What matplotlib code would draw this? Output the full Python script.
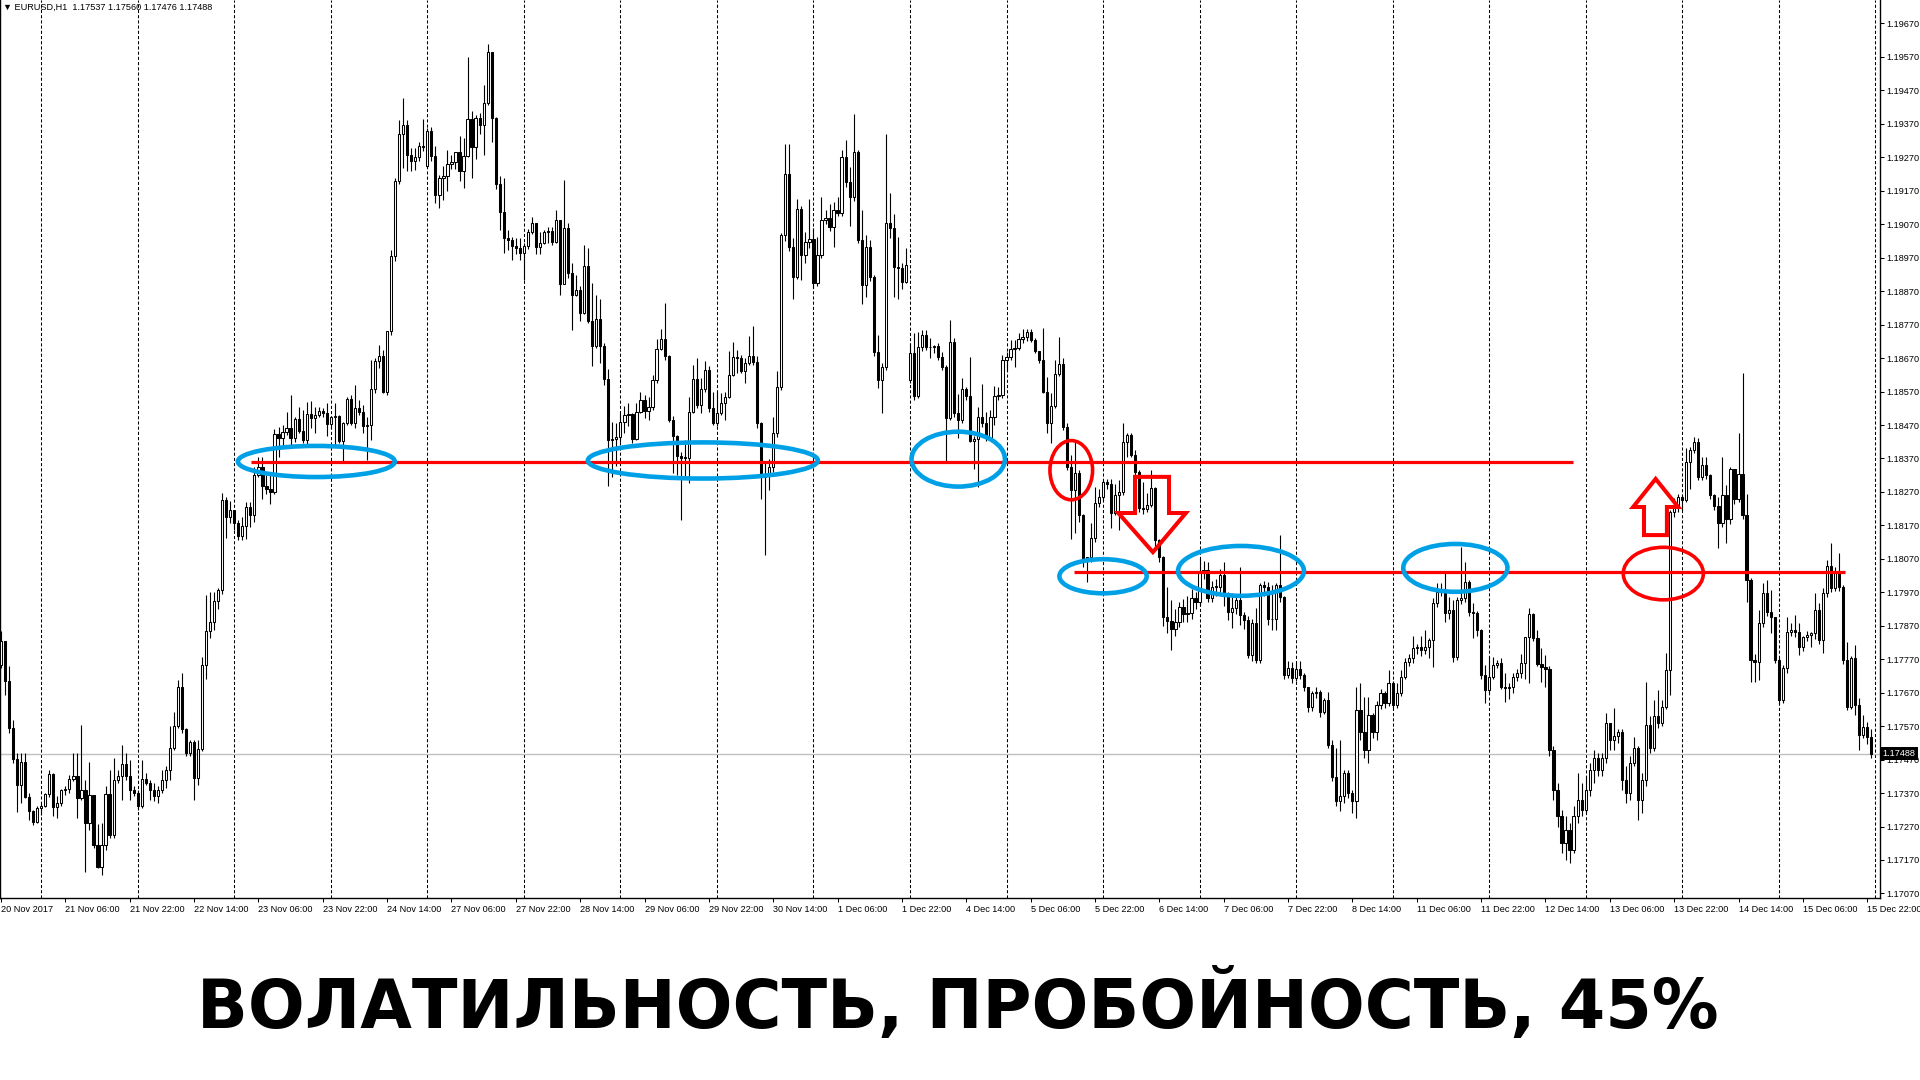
import numpy as np
import matplotlib
matplotlib.use('Agg')
import matplotlib.pyplot as plt
import matplotlib.transforms as mtransforms
from matplotlib.patches import Ellipse, Polygon
from matplotlib.ticker import FormatStrFormatter

# EURUSD H1, prices in pips above 1.17000, bar 0 = 20 Nov 2017 14:00
close_pips = [
    82.3, 70.4, 56.4, 47.1, 39.5, 46.4, 35.8, 31.5, 28.5, 32.5,
    33.2, 36.8, 42.8, 32.8, 34, 37.8, 38.2, 41.3, 42, 35.5,
    38, 28, 36.5, 21.5, 15, 21.5, 36.8, 24.5, 40.8, 42.2,
    45.7, 42, 38, 37, 33, 41.2, 40, 38, 36, 38,
    41, 43.8, 50.4, 57.1, 68.7, 56.1, 49.1, 52.4, 41.5, 50.1,
    75.3, 85.3, 88, 94.5, 97.7, 124.6, 119.6, 121.6, 117.6, 113.9,
    116.8, 122.6, 120.1, 132, 134.5, 128.8, 127.8, 127, 144.3, 143,
    145, 146, 143, 148.7, 145.3, 142.5, 150.3, 149, 150, 151.2,
    150.5, 147.3, 149.5, 149.7, 142.3, 147.7, 154.9, 147.7, 152, 151,
    146.7, 147, 157.9, 166, 167.5, 157, 175, 197.4, 219.8, 234,
    236.7, 227.7, 225.8, 227, 230.4, 230, 235, 227.5, 215.8, 220.8,
    221.3, 225, 225.5, 228.5, 222.8, 227.5, 238.4, 230.2, 238.7, 236.7,
    243.2, 258.6, 238.7, 219.1, 210.8, 202.8, 202.2, 200.4, 200, 198.5,
    200.4, 204.8, 207.3, 200.2, 201.5, 204.8, 205, 201.8, 208.3, 189.2,
    205.8, 192.4, 186, 187.2, 180.6, 194.6, 178, 170.7, 178.6, 170.7,
    160.7, 142.6, 142.8, 143.3, 147.8, 150.1, 150.4, 142.8, 151, 154.5,
    151.3, 152.5, 160.5, 169.7, 172.7, 167.5, 148.4, 143.8, 137.6, 137.2,
    137.1, 150.8, 160.7, 153, 157.7, 163.5, 152, 147.6, 150.5, 153.6,
    155.5, 162, 167.3, 167, 163, 165.5, 167.7, 165.7, 147.6, 131.6,
    132, 134.5, 144.5, 158.5, 203.8, 222, 200.1, 191.3, 211.7, 197.8,
    201.8, 202.5, 189.3, 197.8, 208.2, 209, 206.3, 211.2, 210.4, 227,
    219.7, 215.2, 228.7, 202.3, 188.8, 200.3, 191.3, 168.9, 160.4, 164.4,
    207.3, 205.8, 194.3, 193.8, 189.8, 194.8, 168.4, 155.6, 170.4, 174,
    170.4, 170.2, 170.6, 167.2, 164.4, 149, 171.9, 150.5, 148.5, 157.9,
    155.7, 142.3, 142.8, 149.3, 147.5, 143, 149.3, 155.6, 155.9, 166.4,
    167.4, 169.6, 169.9, 172.6, 173.2, 174.9, 172.4, 169.2, 166.5, 157,
    147.7, 152.7, 162.2, 165.2, 146.5, 134.5, 127.6, 132.6, 120.1, 106.7,
    107.5, 113.1, 123.6, 125.6, 130.1, 129.5, 120.6, 126.1, 127, 142,
    144, 138, 133, 122.1, 121.8, 123, 128.1, 112.6, 107.7, 89.5,
    88.5, 86, 88.2, 92.7, 90.5, 90.7, 95.2, 94, 102.7, 103.7,
    95.2, 98.5, 98.7, 102.2, 96.2, 91.2, 92.2, 94.7, 90.2, 88.7,
    78.3, 87.7, 76.8, 99.2, 98.7, 88.9, 89.1, 99.2, 95.7, 72.3,
    74.3, 71.3, 74, 72.3, 68.8, 62.8, 66.8, 67.3, 61.3, 64.8,
    51.4, 41.9, 34.5, 36, 43.1, 37, 34.5, 61.8, 55.4, 49.9,
    60.3, 55.4, 63.3, 66.8, 63.8, 69.8, 63.3, 66.8, 71.8, 76.3,
    77.3, 80.3, 80.7, 79.8, 80.8, 82.8, 93.7, 97.2, 97.7, 90.7,
    91.8, 77.8, 94.7, 95.2, 100.2, 91.2, 90.8, 85.7, 72.3, 67.8,
    71.8, 75.3, 75.8, 68.8, 68.3, 68.8, 71.8, 72.8, 75.8, 83.7,
    90.5, 83.2, 75.6, 74.8, 74, 49.9, 38, 30, 22, 26,
    20, 30, 35, 32, 38, 44, 47.4, 44, 47.4, 57.8,
    52.8, 54, 55.3, 41, 37, 46, 50.6, 35, 41, 57.3,
    50.4, 60, 58, 62.8, 73.8, 121.1, 122.6, 125.6, 124.6, 136,
    139.5, 142, 131.5, 135, 132, 126.1, 122.8, 117.6, 126.1, 118.8,
    134, 124.8, 132.5, 120.1, 100.7, 76.8, 76.3, 87.7, 96.7, 91.2,
    89.7, 76.8, 64.8, 74.3, 85.2, 85.7, 85, 80.7, 83.7, 84.2,
    84.7, 91.7, 82.7, 96.7, 105, 98.2, 102.7, 98.7, 76.8, 62.8,
    77.3, 63.3, 54.3, 56.8, 53.7, 48.8,
]
high_pips = [
    85.3, 82.5, 75, 58.7, 49, 49, 49, 37, 32, 33,
    34, 37, 43.9, 43, 36, 38.2, 39, 42.5, 49, 49,
    57.4, 41, 46.4, 36.5, 27.8, 28, 39, 43.9, 47.4, 43.8,
    51.4, 49.1, 46.9, 39, 38, 47, 43, 41, 40, 39,
    44, 45, 56.9, 61.1, 70.8, 72.8, 56.5, 53, 53, 53,
    77.8, 96.2, 97.2, 97.2, 98.2, 126.8, 125.5, 124.3, 121, 118.5,
    119.6, 124, 124, 134.5, 137.5, 137.5, 132, 132.5, 145.7, 146.5,
    147, 151, 155.9, 149.3, 152.5, 151.5, 154, 154.3, 152.5, 152.5,
    152.2, 153.5, 149.7, 153.5, 149.9, 148, 155.4, 155.9, 158.9, 154.4,
    152.9, 149.5, 166.4, 167, 171, 169.5, 175, 199.4, 220.8, 238.2,
    244.7, 238.2, 229.7, 229.7, 231.7, 238.4, 235.7, 236.2, 230.3, 221.8,
    224.3, 229.1, 227.8, 228.7, 233.4, 232.7, 256.9, 240.7, 239.7, 240.2,
    248.7, 260.9, 258.6, 239, 221.3, 220.8, 205.3, 203.3, 202.8, 202.8,
    201.4, 205.5, 209.1, 207.5, 204.8, 205.3, 206.3, 206.1, 211.3, 208.3,
    220.1, 207.5, 195.4, 191.9, 188.4, 200.9, 199.9, 189.4, 185.9, 184.6,
    171.5, 163.7, 148, 147.5, 150.6, 152.6, 153.6, 150.5, 153.6, 157,
    155.9, 155.5, 162, 172.7, 175.6, 183.6, 168, 149.8, 144, 138.8,
    142.6, 155.5, 165, 167, 160.9, 166, 164.5, 157, 157, 156.5,
    157, 169, 171.7, 169.3, 168, 167, 173.5, 176.6, 167.5, 148,
    136, 136.8, 149.5, 163, 204.4, 231, 231, 202.8, 214.4, 212.4,
    204.7, 214.4, 205.8, 203.3, 215.2, 211.2, 213.2, 213.7, 215.2, 229.2,
    232.3, 224.2, 239.9, 229.2, 211.2, 203.8, 202.3, 191.8, 173.9, 165.5,
    234.1, 216.4, 210.2, 203.3, 195.3, 199.8, 171.4, 174.4, 174.9, 175.4,
    175.4, 172.9, 170.9, 171.4, 168.9, 164.9, 178.4, 172.9, 156.4, 160.9,
    158.4, 167.2, 143.7, 152.5, 159.2, 151, 151.5, 158.6, 158.4, 167.9,
    168.9, 172.4, 172.4, 174.4, 175.6, 175.6, 175.6, 172.9, 167.4, 175.9,
    161.4, 156.5, 166.4, 173.4, 166.9, 147.7, 138, 142.5, 133.5, 120.5,
    107.7, 117.6, 128.6, 128, 130.6, 131, 131, 129.5, 130.6, 147.5,
    144.5, 144.5, 139.5, 133.5, 130, 126.6, 133.6, 128.5, 113, 108,
    98.6, 94.7, 92, 94, 95, 96, 98, 97, 107.2, 106.5,
    106.2, 100.5, 101, 104, 106.2, 97, 96.7, 96, 104.7, 91,
    90, 89, 92.2, 99.9, 100.5, 100, 99.2, 99.9, 114.1, 96,
    76.5, 76.3, 76, 76.5, 73, 68.8, 67.5, 68.8, 67.8, 65.5,
    67.3, 52.9, 50.4, 52.9, 44, 43.9, 37.9, 68.8, 69.8, 65.8,
    65.8, 61, 64.5, 68, 67.5, 73.8, 70.5, 69.8, 73.8, 77.3,
    78.5, 83.8, 81.5, 83.8, 85.7, 83.2, 95.2, 99.7, 99.7, 102.7,
    95.7, 94.7, 95.7, 110.6, 106.2, 100.7, 93.7, 91.5, 86, 75.3,
    77.8, 77.8, 76.8, 77.3, 72.8, 70, 73, 74, 78.7, 83.7,
    92.3, 90.7, 85.7, 80.5, 78.2, 75, 51, 40, 32, 30,
    28, 33, 43, 40, 42, 46, 50, 49, 49, 61,
    58, 62.3, 56, 56, 45, 48, 53.8, 51, 43, 70.3,
    60, 64.8, 67.8, 64.8, 78.8, 121.6, 125.1, 126.5, 126, 140,
    140.3, 143.5, 143, 137.5, 137.5, 132.5, 126.5, 125.6, 137.5, 129,
    134.5, 134, 144.5, 162.4, 126.5, 101.2, 78.5, 91.7, 99.7, 100.7,
    97.7, 88.7, 77.3, 75.3, 89.7, 87.7, 90.2, 87.7, 84, 85.5,
    85.2, 96.7, 93.7, 98.2, 106.6, 111.6, 104.6, 108.8, 99.2, 82.2,
    78, 81.2, 65.3, 60.3, 58.2, 56,
]
low_pips = [
    74.3, 66.4, 55.1, 46, 31.2, 34, 35.5, 29, 27.5, 28,
    30.5, 32.8, 35.8, 30, 29.5, 33, 36.5, 37, 40.5, 29.5,
    35, 13.3, 26, 20.5, 14.5, 12.6, 20, 23.5, 23.5, 40,
    35, 41, 35, 36, 32, 32.5, 39.5, 35, 34.5, 34,
    37, 38.5, 40.8, 50, 56.5, 55, 48, 48, 35, 39.5,
    49.5, 71, 83.3, 85.6, 92, 96.5, 113.1, 117.8, 115.6, 112.6,
    112.6, 113, 116.6, 118.1, 131.5, 125, 126.5, 123.4, 126.4, 137.5,
    140, 144, 140.5, 142, 144.5, 141.5, 141, 146, 144.7, 149.5,
    149.5, 143.7, 146, 141, 141.5, 136, 147, 147, 146, 150,
    144.5, 136.5, 142.5, 156.5, 164, 156.6, 156, 174, 196, 219,
    223.8, 222.8, 222.8, 223.3, 225.8, 229, 224, 226, 213.3, 211.8,
    214.3, 217, 223.5, 223.5, 219.8, 217.8, 227, 220.8, 226.5, 234,
    227.8, 242.5, 231.7, 217.5, 205.3, 198.4, 199.4, 196.4, 198.2, 196.4,
    190.2, 199.5, 204, 198.2, 198.2, 201, 201.3, 200.8, 201.5, 185.9,
    189, 191, 175.5, 185.5, 178, 180.2, 177.5, 164.7, 170, 165.5,
    159, 128.7, 131.6, 134.6, 142, 144.6, 146.6, 141.6, 142.5, 150.5,
    149, 148.5, 151.5, 159.5, 169.5, 166.5, 148, 132.7, 132.2, 118.7,
    131.6, 129.6, 150.5, 152, 150.6, 157, 151, 147, 146.6, 150,
    148.5, 155, 161.5, 162.5, 162.5, 159.5, 165, 165, 146, 125,
    108.1, 127.6, 133, 143.5, 157.5, 202, 199, 184.8, 190.5, 190.3,
    195.3, 200, 188, 188.5, 197, 207, 205, 200.3, 209.5, 209.5,
    218, 206.5, 214, 201.5, 183.3, 185.3, 190, 167.5, 158, 150.5,
    163.5, 203, 185.3, 184.8, 187.5, 189.5, 159.5, 154.5, 155, 169,
    169.5, 166.9, 168.5, 166.5, 163.5, 135.5, 148.5, 149.5, 143, 147.5,
    154.5, 142, 134, 128.6, 146.5, 142.3, 142.5, 147, 154.5, 155,
    163, 166.5, 164.4, 169.5, 171.5, 172, 171.8, 168.5, 165.5, 156.5,
    144.5, 141.5, 152, 161.5, 145.5, 133.5, 113, 114.6, 118, 104.7,
    100.2, 106, 112, 122.5, 124.5, 128, 116.1, 120, 115.6, 126,
    137.5, 137.5, 132, 121, 120.5, 121, 122.5, 110.5, 106, 87,
    84.7, 79.8, 84, 86.5, 88, 88, 89, 92, 93, 101,
    94, 94, 96, 97, 93, 88.7, 86.2, 90.5, 87.2, 86,
    77.3, 76.5, 75.8, 76, 96, 87.2, 85.7, 85.7, 94, 71,
    71.5, 70, 70.5, 71, 67.5, 61.3, 61.5, 65.5, 59.8, 60.5,
    50.5, 40.5, 33, 31.5, 34, 35.5, 31, 29.5, 53, 47.5,
    45.9, 53.5, 53, 62, 62.5, 63, 62, 62.5, 66, 71,
    75, 76, 78.5, 78, 78.5, 77.5, 74.8, 92.5, 96, 88.2,
    89, 76.3, 76.8, 93.5, 94, 90, 83.3, 84, 71, 63.8,
    67, 71, 74.5, 68, 64.3, 65, 67, 70.5, 71.5, 71,
    70, 82.5, 75, 70.3, 68.8, 48, 35, 27, 19, 17,
    16, 19, 28, 30, 31, 36, 40, 42, 42, 46,
    50, 50, 52, 38, 34, 35, 45, 29, 31, 39,
    49, 49.5, 56.5, 57, 62, 66.3, 119.5, 121, 121.5, 124,
    128, 138.5, 130.5, 130.5, 131, 125, 121.5, 110.1, 116.5, 111.6,
    117.5, 123.5, 124, 119, 94.2, 70.3, 70.3, 70.8, 86.5, 90,
    84.7, 76, 63.5, 64, 73, 84, 83.5, 78.3, 79.5, 82.5,
    80.7, 83, 81.5, 78.8, 95.5, 97, 97.5, 97.5, 75.5, 61.8,
    62, 60.3, 49.9, 53.5, 51.8, 47.6,
]
first_open = 75.3
gap_opens = {106: 224.5, 226: 160.6}   # monday opens

time_labels = [
    '20 Nov 2017', '21 Nov 06:00', '21 Nov 22:00', '22 Nov 14:00', '23 Nov 06:00',
    '23 Nov 22:00', '24 Nov 14:00', '27 Nov 06:00', '27 Nov 22:00', '28 Nov 14:00',
    '29 Nov 06:00', '29 Nov 22:00', '30 Nov 14:00', '1 Dec 06:00', '1 Dec 22:00',
    '4 Dec 14:00', '5 Dec 06:00', '5 Dec 22:00', '6 Dec 14:00', '7 Dec 06:00',
    '7 Dec 22:00', '8 Dec 14:00', '11 Dec 06:00', '11 Dec 22:00', '12 Dec 14:00',
    '13 Dec 06:00', '13 Dec 22:00', '14 Dec 14:00', '15 Dec 06:00', '15 Dec 22:00',
]
label_step = 16
first_day_bar = 10   # 21 Nov 00:00
bars_per_day = 24

last_price = 1.17488
header = '\u25bc EURUSD,H1  1.17537 1.17560 1.17476 1.17488'
title = 'ВОЛАТИЛЬНОСТЬ, ПРОБОЙНОСТЬ, 45%'

# drawn levels: price, from bar, to bar
levels = [(1.18360, 62.2, 390.9), (1.18031, 266.8, 458.5)]
# rings: bar, pips, width (bars), height (pips)
blue_rings = [(78.4, 136.1, 39.0, 9.3), (174.5, 136.4, 57.2, 10.8),
              (238.0, 136.8, 23.2, 16.4), (274.0, 101.8, 21.7, 10.2),
              (308.3, 103.4, 31.3, 14.9), (361.6, 104.3, 25.9, 14.3)]
red_rings = [(266.1, 133.5, 10.6, 17.7), (413.3, 102.6, 19.9, 15.7)]
arrow_down = [(281.95, 131.5), (290.4, 131.5), (290.4, 120.7), (294.6, 120.7),
              (286.4, 109.0), (277.8, 120.7), (281.95, 120.7)]
arrow_up = [(408.5, 114.1), (408.5, 122.5), (405.8, 122.5), (411.4, 130.9),
            (417.0, 122.5), (414.2, 122.5), (414.2, 114.1)]


def px(p):
    return 1.17 + np.asarray(p, dtype=float) / 1e4


assert len(close_pips) == len(high_pips) == len(low_pips)
n = len(close_pips)
idx = np.arange(n)
c = np.array(close_pips, dtype=float)
o = np.r_[first_open, c[:-1]]
for k, v in gap_opens.items():
    o[k] = v
h = np.maximum(np.array(high_pips), np.maximum(o, c))
l = np.minimum(np.array(low_pips), np.minimum(o, c))

plt.rcParams['font.family'] = ['Liberation Sans', 'DejaVu Sans']

fig = plt.figure(figsize=(19.2, 10.8), dpi=100)
fig.patch.set_facecolor('white')
ax = fig.add_axes([0, 1 - 898 / 1080, 1880 / 1920, 898 / 1080])
ax.set_xlim(-0.2486, 467.18)
ax.set_ylim(1.170564, 1.197402)

# day separators
for d in range(first_day_bar, n + 1, bars_per_day):
    ax.axvline(d, color='black', lw=0.75, ls=(0, (3, 2)), zorder=1)
ax.axhline(last_price, color='#c0c0c0', lw=1.0, zorder=1)

# candles
ax.vlines(idx, px(l), px(h), color='black', lw=0.8, zorder=2)
bull = c >= o
body_lo = np.minimum(o, c)
body_h = np.maximum(np.abs(c - o), 0.25)
ax.bar(idx, body_h / 1e4, bottom=px(body_lo), width=0.55,
       color=['white' if b else 'black' for b in bull],
       edgecolor='black', linewidth=0.75, zorder=3)

# markup
for price, x0, x1 in levels:
    ax.hlines(price, x0, x1, color='#ff0000', lw=2.3, zorder=5)
for bx, bp, bw, bh in blue_rings:
    ax.add_patch(Ellipse((bx, px(bp)), bw, bh / 1e4, fill=False,
                         edgecolor='#00a0e6', lw=3.3, zorder=6))
for bx, bp, bw, bh in red_rings:
    ax.add_patch(Ellipse((bx, px(bp)), bw, bh / 1e4, fill=False,
                         edgecolor='#ff0000', lw=2.6, zorder=6))
for arr in (arrow_down, arrow_up):
    pts = [(a, float(px(b))) for a, b in arr]
    ax.add_patch(Polygon(pts, closed=True, fill=False, edgecolor='#ff0000',
                         lw=2.9, joinstyle='miter', zorder=6))

# axes look
for s in ('top',):
    ax.spines[s].set_visible(False)
for s in ('left', 'right', 'bottom'):
    ax.spines[s].set_linewidth(1.0)
ax.yaxis.tick_right()
yt = np.round(np.arange(1.17070, 1.19671, 0.001), 5)
ax.set_yticks(yt)
ax.yaxis.set_major_formatter(FormatStrFormatter('%.5f'))
ax.tick_params(axis='y', direction='out', length=3, width=0.75, pad=1.5,
               labelsize=6.6)
xt = np.arange(0, n, label_step)
ax.set_xticks(xt)
ax.set_xticklabels(time_labels, ha='left')
ax.tick_params(axis='x', direction='out', length=3, width=0.75, pad=2,
               labelsize=6.6)

trans = mtransforms.blended_transform_factory(ax.transAxes, ax.transData)
ax.text(1.0015, last_price, '1.17488', transform=trans, ha='left', va='center',
        color='white', fontsize=6.6,
        bbox=dict(facecolor='black', edgecolor='none', pad=1.6), zorder=10)

fig.text(3 / 1920, 1 - 7 / 1080, header, ha='left', va='center',
         fontsize=6.6, family=['Liberation Sans', 'DejaVu Sans'])

t = fig.text(958 / 1920, 1 - 1028 / 1080, title, ha='center', va='baseline',
             fontsize=50, fontweight='bold', family=['DejaVu Sans'])
r = fig.canvas.get_renderer()
w = t.get_window_extent(r).width
t.set_fontsize(50 * 1524 / w)

fig.savefig('out.png', dpi=100, facecolor='white')
